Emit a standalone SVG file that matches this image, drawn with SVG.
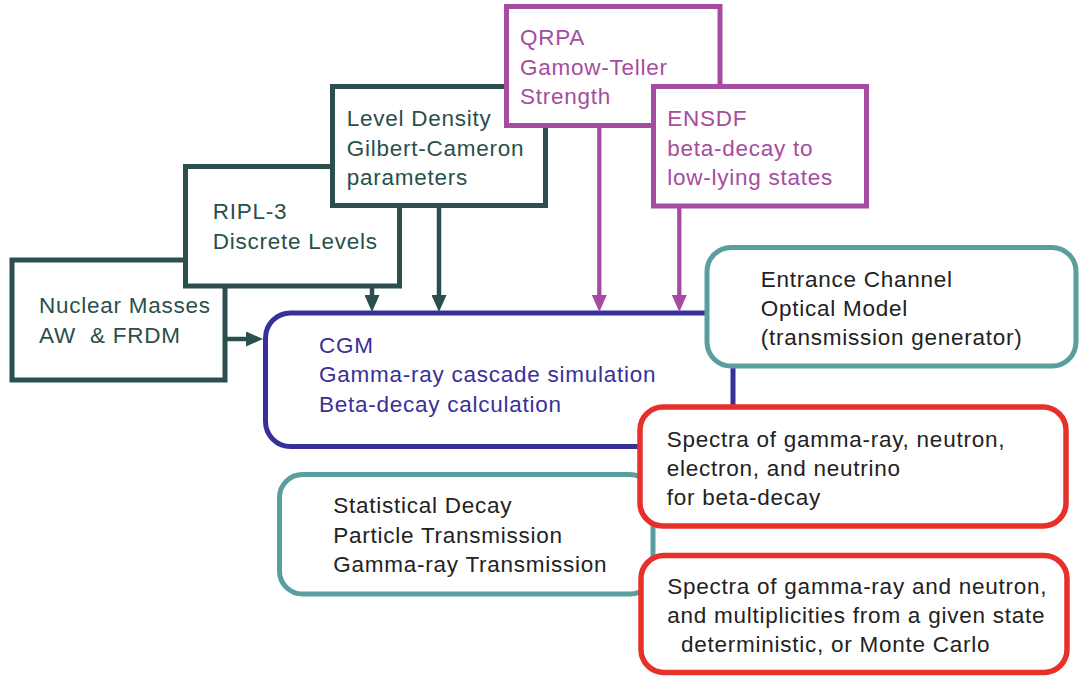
<svg xmlns="http://www.w3.org/2000/svg" width="1079" height="679" viewBox="0 0 1079 679">
<style>
text{font-family:"Liberation Sans",Arial,Helvetica,sans-serif;font-size:22.5px;letter-spacing:0.75px;white-space:pre}
.g{fill:#fff;stroke:#2a4f4c;stroke-width:5}
.m{fill:#fff;stroke:#a64ca0;stroke-width:5}
.b{fill:#fff;stroke:#38309a;stroke-width:5}
.t{fill:#fff;stroke:#5a9e9e;stroke-width:5}
.r{fill:#fff;stroke:#e8302a;stroke-width:5.5}
.tg{fill:#2a4f4c}
.tm{fill:#a64ca0}
.tb{fill:#38309a}
.tk{fill:#222}
.ag{stroke:#2a4f4c;stroke-width:4.5;fill:none}
.am{stroke:#a64ca0;stroke-width:4.3;fill:none}
</style>
<defs>
<marker id="hg" markerUnits="userSpaceOnUse" markerWidth="17" markerHeight="15" refX="7" refY="7.5" orient="auto"><path d="M0,0 L17,7.5 L0,15 z" fill="#2a4f4c"/></marker>
<marker id="hm" markerUnits="userSpaceOnUse" markerWidth="17" markerHeight="15" refX="7" refY="7.5" orient="auto"><path d="M0,0 L17,7.5 L0,15 z" fill="#a64ca0"/></marker>
</defs>
<g id="nuclear-masses"><rect class="g" x="12" y="260" width="213" height="120"/>
<text class="tg" x="39" y="312.7">Nuclear Masses</text><text class="tg" x="39" y="342.7">AW  &amp; FRDM</text></g>
<g id="ripl3"><rect class="g" x="185.5" y="166.5" width="214" height="119.5"/>
<text class="tg" x="212.7" y="219.3">RIPL-3</text><text class="tg" x="212.7" y="248.7">Discrete Levels</text></g>
<g id="level-density"><rect class="g" x="332.5" y="86.5" width="213" height="119"/>
<text class="tg" x="346.7" y="126">Level Density</text><text class="tg" x="346.7" y="155.5">Gilbert-Cameron</text><text class="tg" x="346.7" y="185">parameters</text></g>
<g id="qrpa"><rect class="m" x="506.5" y="6.5" width="213.5" height="119"/>
<text class="tm" x="520" y="45.3">QRPA</text><text class="tm" x="520" y="74.5">Gamow-Teller</text><text class="tm" x="520" y="104">Strength</text></g>
<g id="ensdf"><rect class="m" x="653.5" y="86.5" width="213" height="119.5"/>
<text class="tm" x="667.3" y="126">ENSDF</text><text class="tm" x="667.3" y="155.5">beta-decay to</text><text class="tm" x="667.3" y="185">low-lying states</text></g>
<g id="cgm"><rect class="b" x="265.5" y="313" width="467.5" height="133.5" rx="25"/>
<text class="tb" x="319" y="352.7">CGM</text><text class="tb" x="319" y="382.3">Gamma-ray cascade simulation</text><text class="tb" x="319" y="411.7">Beta-decay calculation</text></g>
<g id="statistical"><rect class="t" x="279.5" y="474.5" width="373.5" height="119.5" rx="23"/>
<text class="tk" x="333.3" y="513.3">Statistical Decay</text><text class="tk" x="333.3" y="542.5">Particle Transmission</text><text class="tk" x="333.3" y="571.7">Gamma-ray Transmission</text></g>
<g id="entrance"><rect class="t" x="707" y="247.5" width="369" height="118.5" rx="24"/>
<text class="tk" x="760.7" y="286.7">Entrance Channel</text><text class="tk" x="760.7" y="316">Optical Model</text><text class="tk" x="760.7" y="345">(transmission generator)</text></g>
<g id="spectra-beta"><rect class="r" x="640" y="407" width="426" height="119" rx="23"/>
<text class="tk" x="666.7" y="446.7">Spectra of gamma-ray, neutron,</text><text class="tk" x="666.7" y="476">electron, and neutrino</text><text class="tk" x="666.7" y="505">for beta-decay</text></g>
<g id="spectra-state"><rect class="r" x="641" y="555.5" width="426" height="117" rx="23"/>
<text class="tk" x="667.3" y="594.3">Spectra of gamma-ray and neutron,</text><text class="tk" x="667.3" y="622.7">and multiplicities from a given state</text><text class="tk" x="681" y="651.7">deterministic, or Monte Carlo</text></g>
<g id="connectors">
<line class="ag" x1="372" y1="286" x2="372" y2="302" marker-end="url(#hg)"/>
<line class="ag" x1="439" y1="206" x2="439" y2="302" marker-end="url(#hg)"/>
<line class="am" x1="599.3" y1="126" x2="599.3" y2="302" marker-end="url(#hm)"/>
<line class="am" x1="679.3" y1="206" x2="679.3" y2="302" marker-end="url(#hm)"/>
<line class="ag" x1="225" y1="339" x2="253" y2="339" marker-end="url(#hg)"/>
</g>
</svg>
